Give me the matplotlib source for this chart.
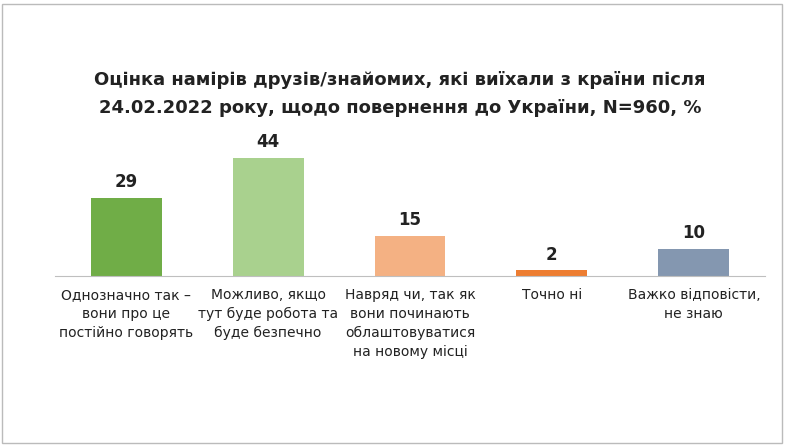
import matplotlib.pyplot as plt
from matplotlib.patches import Rectangle

categories = ["Однозначно так –\nвони про це\nпостійно говорять",
              "Можливо, якщо\nтут буде робота та\nбуде безпечно",
              "Навряд чи, так як\nвони починають\nоблаштовуватися\nна новому місці",
              "Точно ні",
              "Важко відповісти,\nне знаю"]
values = [29, 44, 15, 2, 10]
colors = ["#70AD47", "#A9D18E", "#F4B183", "#ED7D31", "#8497B0"]

fig = plt.figure(figsize=(8, 4.47), dpi=100)
fig.patch.set_facecolor("white")
ax = fig.add_axes([0.069, 0.383, 0.887, 0.327])
x = range(len(values))
bars = ax.bar(x, values, width=0.5, color=colors)
for xi, v in zip(x, values):
    ax.text(xi, v + 2.5, str(v), ha="center", va="bottom", fontsize=12, fontweight="bold", color="#222222")
ax.set_xlim(-0.5, len(values) - 0.5)
ax.set_ylim(0, 54.5)
ax.set_yticks([])
ax.set_xticks(list(x))
ax.set_xticklabels(categories, fontsize=10, color="#222222", linespacing=1.45, va="top")
ax.tick_params(axis="x", length=0, pad=9)
for s in ["top", "right", "left"]:
    ax.spines[s].set_visible(False)
ax.spines["bottom"].set_color("#BFBFBF")

fig.text(0.5, 0.79, "Оцінка намірів друзів/знайомих, які виїхали з країни після\n24.02.2022 року, щодо повернення до України, N=960, %",
         ha="center", va="center", fontsize=13, fontweight="bold", color="#222222", linespacing=1.7)
fig.add_artist(Rectangle((0.003, 0.01), 0.975, 0.98, transform=fig.transFigure, fill=False, edgecolor="#BBBBBB", lw=1))
fig.savefig("out.png", dpi=100)
